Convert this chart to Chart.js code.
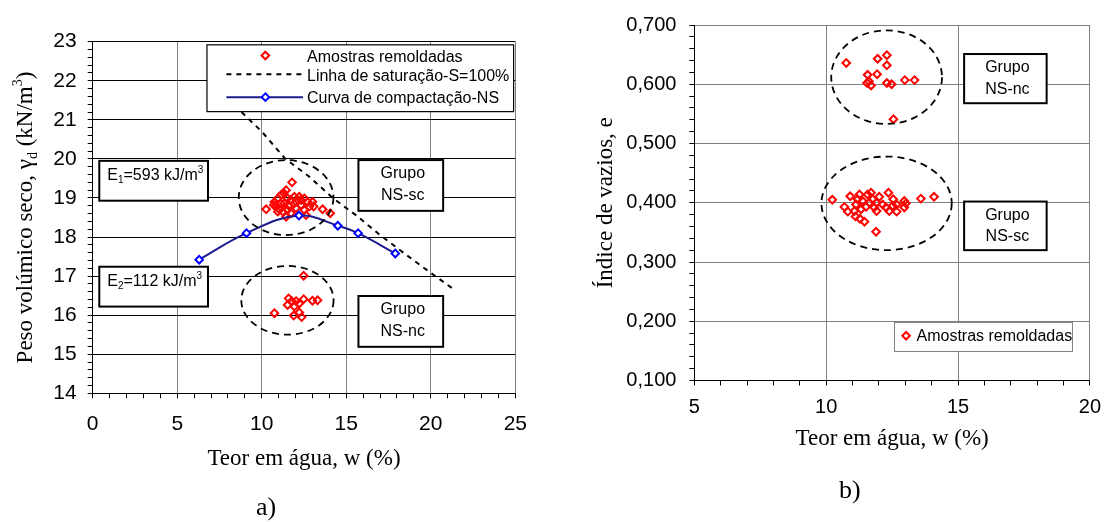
<!DOCTYPE html>
<html>
<head>
<meta charset="utf-8">
<script src="https://cdn.jsdelivr.net/npm/chart.js@4.4.1/dist/chart.umd.min.js"></script>
<style>
  body { margin: 0; background: #fff; width: 1111px; height: 522px; position: relative; overflow: hidden; }
  canvas { position: absolute; top: 0; }
  #chartA { left: 0; }
  #chartB { left: 540px; }
  .lbl { position: absolute; font-family: 'Liberation Serif', 'Times New Roman', serif; font-size: 26px; line-height: 30px; }
</style>
</head>
<body>
<canvas id="chartA" width="540" height="522"></canvas>
<canvas id="chartB" width="571" height="522"></canvas>
<div class="lbl" style="left:256px; top:492px">a)</div>
<div class="lbl" style="left:839px; top:475px">b)</div>
<script>
// ---- a) peso volúmico seco x teor em água
const amostrasW_sc = [11.79, 11.44, 11.30, 11.14, 10.95, 10.75, 10.26, 10.71, 11.04, 11.34, 11.53, 11.73, 11.93, 12.22, 12.52, 12.71, 13.00, 13.07, 13.60, 14.05, 11.53, 11.73, 12.03, 12.32, 12.52, 12.62, 12.81, 11.24, 10.95, 11.44, 10.85, 12.03, 12.32, 11.14, 11.60, 11.90];
const amostrasG_sc = [19.40, 19.20, 19.13, 19.08, 18.99, 18.90, 18.71, 18.82, 18.71, 18.86, 18.99, 18.95, 19.03, 19.03, 18.99, 18.90, 18.90, 18.78, 18.71, 18.61, 18.69, 18.61, 18.74, 18.82, 18.69, 18.56, 18.78, 18.65, 18.65, 18.52, 18.78, 18.90, 18.95, 18.86, 18.80, 18.85];
const amostrasW_nc = [12.48, 11.59, 11.77, 11.53, 12.03, 12.48, 13.00, 13.30, 11.93, 12.22, 10.75, 11.89, 12.22, 12.36];
const amostrasG_nc = [17.01, 16.43, 16.36, 16.26, 16.36, 16.41, 16.37, 16.38, 16.22, 16.30, 16.05, 15.99, 16.07, 15.95];
const compW = [6.3, 9.1, 12.2, 14.5, 15.7, 17.9];
const compG = [17.42, 18.10, 18.55, 18.29, 18.10, 17.58];
const satW = [8.8, 10.0, 11.4, 12.8, 14.2, 15.6, 17.0, 18.5, 20.1, 21.4];
const satG = [21.2, 20.7, 20.0, 19.55, 19.0, 18.55, 18.05, 17.56, 17.05, 16.65];
const xTicksA = [0, 5, 10, 15, 20, 25];
const yTicksA = [14, 15, 16, 17, 18, 19, 20, 21, 22, 23];

// ---- b) índice de vazios x teor em água
const vaziosW_nc = [10.76, 11.95, 12.30, 12.30, 11.57, 11.93, 11.55, 11.70, 11.62, 12.30, 12.48, 12.98, 13.35, 12.55];
const vaziosE_nc = [0.636, 0.643, 0.649, 0.632, 0.616, 0.617, 0.602, 0.598, 0.605, 0.602, 0.600, 0.607, 0.607, 0.541];
const vaziosW_sc = [10.23, 10.91, 11.26, 11.57, 11.70, 12.01, 12.36, 12.54, 12.96, 13.59, 14.09, 10.69, 10.82, 11.13, 11.11, 11.28, 11.45, 11.89, 11.32, 11.51, 11.38, 11.64, 11.82, 11.91, 12.14, 12.27, 12.39, 12.52, 12.67, 12.96, 13.02, 11.19, 11.76, 11.91, 12.67, 11.07];
const vaziosE_sc = [0.405, 0.411, 0.414, 0.414, 0.417, 0.410, 0.417, 0.406, 0.403, 0.407, 0.410, 0.393, 0.385, 0.397, 0.377, 0.373, 0.368, 0.351, 0.389, 0.393, 0.403, 0.400, 0.392, 0.386, 0.397, 0.392, 0.386, 0.395, 0.385, 0.392, 0.399, 0.406, 0.406, 0.400, 0.397, 0.386];
const xTicksB = [5, 10, 15, 20];
const yTicksB = [0.1, 0.2, 0.3, 0.4, 0.5, 0.6, 0.7];

const SANS = "'Liberation Sans', Arial, sans-serif";
const SERIF = "'Liberation Serif', 'Times New Roman', serif";
Chart.defaults.font.family = SANS;
Chart.defaults.color = '#000';
Chart.defaults.animation = false;

const pts = (xs, ys) => xs.map((x, i) => ({ x, y: ys[i] }));
const isMajor = (v, majors) => majors.some(m => Math.abs(m - v) < 1e-6);
function stepTicks(min, max, step) {
  const out = [];
  const n = Math.round((max - min) / step);
  for (let i = 0; i <= n; i++) out.push(+(min + i * step).toFixed(4));
  return out;
}

function axis(o) {
  return {
    type: 'linear', min: o.min, max: o.max,
    afterBuildTicks: s => { s.ticks = stepTicks(o.min, o.max, o.step).map(v => ({ value: v })); },
    afterFit: s => { if (s.isHorizontal()) s.height = o.size; else s.width = o.size; },
    ticks: {
      autoSkip: false, maxRotation: 0, padding: o.pad, font: { size: o.font },
      callback: v => isMajor(v, o.majors) ? o.fmt(v) : ''
    },
    grid: {
      color: c => (c.tick && isMajor(c.tick.value, o.majors)) ? o.gridColor : 'rgba(0,0,0,0)',
      tickColor: '#000', tickLength: 5, lineWidth: 1
    },
    border: { color: '#000', width: 1 }
  };
}

// text with sub/superscripts
function drawRich(ctx, parts, x, y, size, family, align) {
  const fontOf = p => `${(p.sub || p.sup) ? Math.round(size * 0.62) : size}px ${family}`;
  const w = parts.map(p => { ctx.font = fontOf(p); return ctx.measureText(p.t).width; });
  let cx = align === 'center' ? x - w.reduce((a, b) => a + b, 0) / 2 : x;
  ctx.textAlign = 'left';
  ctx.textBaseline = 'alphabetic';
  parts.forEach((p, i) => {
    ctx.font = fontOf(p);
    const dy = p.sub ? size * 0.22 : p.sup ? -size * 0.42 : 0;
    ctx.fillText(p.t, cx, y + dy);
    cx += w[i];
  });
}

function drawMarker(ctx, x, y, color, fill) {
  ctx.save();
  ctx.setLineDash([]);
  ctx.beginPath();
  ctx.moveTo(x, y - 3.8); ctx.lineTo(x + 3.8, y); ctx.lineTo(x, y + 3.8); ctx.lineTo(x - 3.8, y); ctx.closePath();
  if (fill) { ctx.fillStyle = fill; ctx.fill(); }
  ctx.lineWidth = 2; ctx.strokeStyle = color; ctx.stroke();
  ctx.restore();
}

function decor(cfg) {
  return {
    id: 'decor',
    afterDatasetsDraw(chart) {
      const { ctx, scales: { x, y } } = chart;
      ctx.save();
      cfg.ellipses.forEach(e => {
        const cx = x.getPixelForValue(e.x), cy = y.getPixelForValue(e.y);
        const rx = Math.abs(x.getPixelForValue(e.x + e.rx) - cx);
        const ry = Math.abs(y.getPixelForValue(e.y + e.ry) - cy);
        ctx.beginPath();
        ctx.setLineDash([7, 5]);
        ctx.lineWidth = 1.8;
        ctx.strokeStyle = '#000';
        ctx.ellipse(cx, cy, rx, ry, 0, 0, 2 * Math.PI);
        ctx.stroke();
      });
      ctx.setLineDash([]);
      cfg.boxes.forEach(b => {
        const l = x.getPixelForValue(b.x0), r = x.getPixelForValue(b.x1);
        const t = y.getPixelForValue(b.y0), bt = y.getPixelForValue(b.y1);
        ctx.fillStyle = '#fff';
        ctx.fillRect(l, t, r - l, bt - t);
        ctx.lineWidth = b.lw;
        ctx.strokeStyle = b.stroke;
        ctx.strokeRect(l, t, r - l, bt - t);
        ctx.fillStyle = '#000';
        b.draw(ctx, l, t, r, bt, chart);
      });
      ctx.restore();
    },
    afterDraw(chart) {
      const { ctx, chartArea: a } = chart;
      ctx.save();
      ctx.fillStyle = '#000';
      ctx.font = `23px ${SERIF}`;
      ctx.textAlign = 'center';
      ctx.textBaseline = 'alphabetic';
      ctx.fillText('Teor em água, w (%)', (a.left + a.right) / 2, a.bottom + cfg.xTitleOffset);
      ctx.translate(cfg.yTitleX, (a.top + a.bottom) / 2);
      ctx.rotate(-Math.PI / 2);
      drawRich(ctx, cfg.yTitle, 0, 0, 23, SERIF, 'center');
      ctx.restore();
    }
  };
}

function grupoBox(x0, y0, x1, y1, name) {
  return {
    x0, y0, x1, y1, lw: 2, stroke: '#000',
    draw: (ctx, l, t, r) => {
      ctx.font = `16px ${SANS}`;
      ctx.textAlign = 'center';
      ctx.textBaseline = 'alphabetic';
      ctx.fillText('Grupo', (l + r) / 2 + 2, t + 18);
      ctx.fillText(name, (l + r) / 2 + 2, t + 39.5);
    }
  };
}
function energyBox(x0, y0, x1, y1, idx, val) {
  return {
    x0, y0, x1, y1, lw: 2, stroke: '#000',
    draw: (ctx, l, t) => drawRich(ctx, [{ t: 'E' }, { t: idx, sub: true }, { t: '=' + val + ' kJ/m' }, { t: '3', sup: true }], l + 8, t + 19, 16, SANS, 'left')
  };
}

const datasetsA = [
  { label: 'Amostras remoldadas', data: pts(amostrasW_sc.concat(amostrasW_nc), amostrasG_sc.concat(amostrasG_nc)),
    order: 2, pointStyle: 'rectRot', pointRadius: 3.8, pointBorderWidth: 2,
    pointBorderColor: '#ff0000', pointBackgroundColor: 'rgba(0,0,0,0)' },
  { label: 'Linha de saturação-S=100%', data: pts(satW, satG), order: 1, showLine: true,
    borderColor: '#000', borderWidth: 2, borderDash: [5, 5], pointRadius: 0, tension: 0 },
  { label: 'Curva de compactação-NS', data: pts(compW, compG), order: 0, showLine: true,
    borderColor: '#1c1c8f', borderWidth: 2, tension: 0.4, pointStyle: 'rectRot', pointRadius: 3.8,
    pointBorderWidth: 2, pointBorderColor: '#0000ff', pointBackgroundColor: '#fff' }
];

new Chart(document.getElementById('chartA'), {
  type: 'scatter',
  data: { datasets: datasetsA },
  options: {
    responsive: false,
    layout: { padding: { left: 0, right: 23.3, top: 41.7, bottom: 0 } },
    plugins: { legend: { display: false }, tooltip: { enabled: false } },
    scales: {
      x: axis({ min: 0, max: 25, step: 1, majors: xTicksA, fmt: v => String(v), size: 128.7, pad: 13, font: 21, gridColor: '#808080' }),
      y: axis({ min: 14, max: 23, step: 0.2, majors: yTicksA, fmt: v => String(v), size: 92.7, pad: 11, font: 21, gridColor: '#000' })
    }
  },
  plugins: [decor({
    xTitleOffset: 72,
    yTitleX: 32,
    yTitle: [{ t: 'Peso volúmico seco, γ' }, { t: 'd', sub: true }, { t: ' (kN/m' }, { t: '3', sup: true }, { t: ')' }],
    ellipses: [
      { x: 11.44, y: 19.01, rx: 2.80, ry: 0.96 },
      { x: 11.52, y: 16.38, rx: 2.73, ry: 0.88 }
    ],
    boxes: [
      energyBox(0.39, 19.95, 6.82, 18.93, '1', '593'),
      energyBox(0.39, 17.24, 6.82, 16.22, '2', '112'),
      grupoBox(15.72, 19.97, 20.73, 18.67, 'NS-sc'),
      grupoBox(15.72, 16.49, 20.73, 15.19, 'NS-nc'),
      { x0: 6.76, y0: 22.92, x1: 24.9, y1: 21.21, lw: 1.2, stroke: '#000',
        draw: (ctx, l, t, r, b, chart) => {
          const ds = chart.data.datasets;
          ctx.font = `16px ${SANS}`;
          ctx.textAlign = 'left';
          ctx.textBaseline = 'alphabetic';
          ctx.fillText(ds[0].label, l + 100, t + 17.5);
          ctx.fillText(ds[1].label, l + 100, t + 36.5);
          ctx.fillText(ds[2].label, l + 100, t + 58.5);
          drawMarker(ctx, l + 58.4, t + 10.7, '#ff0000', null);
          ctx.beginPath(); ctx.setLineDash([5, 5]); ctx.lineWidth = 2; ctx.strokeStyle = '#000';
          ctx.moveTo(l + 19.4, t + 29.3); ctx.lineTo(l + 96, t + 29.3); ctx.stroke();
          ctx.setLineDash([]);
          ctx.beginPath(); ctx.strokeStyle = '#1c1c8f';
          ctx.moveTo(l + 19.4, t + 52.3); ctx.lineTo(l + 96, t + 52.3); ctx.stroke();
          drawMarker(ctx, l + 58.4, t + 52.3, '#0000ff', '#fff');
        } }
    ]
  })]
});

new Chart(document.getElementById('chartB'), {
  type: 'scatter',
  data: { datasets: [
    { label: 'Amostras remoldadas', data: pts(vaziosW_nc.concat(vaziosW_sc), vaziosE_nc.concat(vaziosE_sc)),
      pointStyle: 'rectRot', pointRadius: 3.8, pointBorderWidth: 2,
      pointBorderColor: '#ff0000', pointBackgroundColor: 'rgba(0,0,0,0)' }
  ] },
  options: {
    responsive: false,
    layout: { padding: { left: 0, right: 19.7, top: 19.6, bottom: 0 } },
    plugins: { legend: { display: false }, tooltip: { enabled: false } },
    scales: {
      x: axis({ min: 5, max: 20, step: 1, majors: xTicksB, fmt: v => String(v), size: 141.5, pad: 10, font: 20, gridColor: '#808080' }),
      y: axis({ min: 0.1, max: 0.7, step: 0.02, majors: yTicksB, fmt: v => v.toFixed(3).replace('.', ','), size: 154.4, pad: 13, font: 20, gridColor: '#808080' })
    }
  },
  plugins: [decor({
    xTitleOffset: 64.5,
    yTitleX: 72,
    yTitle: [{ t: 'Índice de vazios, e' }],
    ellipses: [
      { x: 12.29, y: 0.612, rx: 2.10, ry: 0.079 },
      { x: 12.29, y: 0.399, rx: 2.47, ry: 0.079 }
    ],
    boxes: [
      grupoBox(15.23, 0.651, 18.36, 0.568, 'NS-nc'),
      grupoBox(15.23, 0.402, 18.36, 0.320, 'NS-sc'),
      { x0: 12.59, y0: 0.198, x1: 19.34, y1: 0.149, lw: 1, stroke: '#808080',
        draw: (ctx, l, t, r, b, chart) => {
          ctx.font = `16px ${SANS}`;
          ctx.textAlign = 'left';
          ctx.textBaseline = 'alphabetic';
          ctx.fillText(chart.data.datasets[0].label, l + 22, t + 18.5);
          drawMarker(ctx, l + 11.6, t + 13.3, '#ff0000', null);
        } }
    ]
  })]
});
</script>
</body>
</html>
